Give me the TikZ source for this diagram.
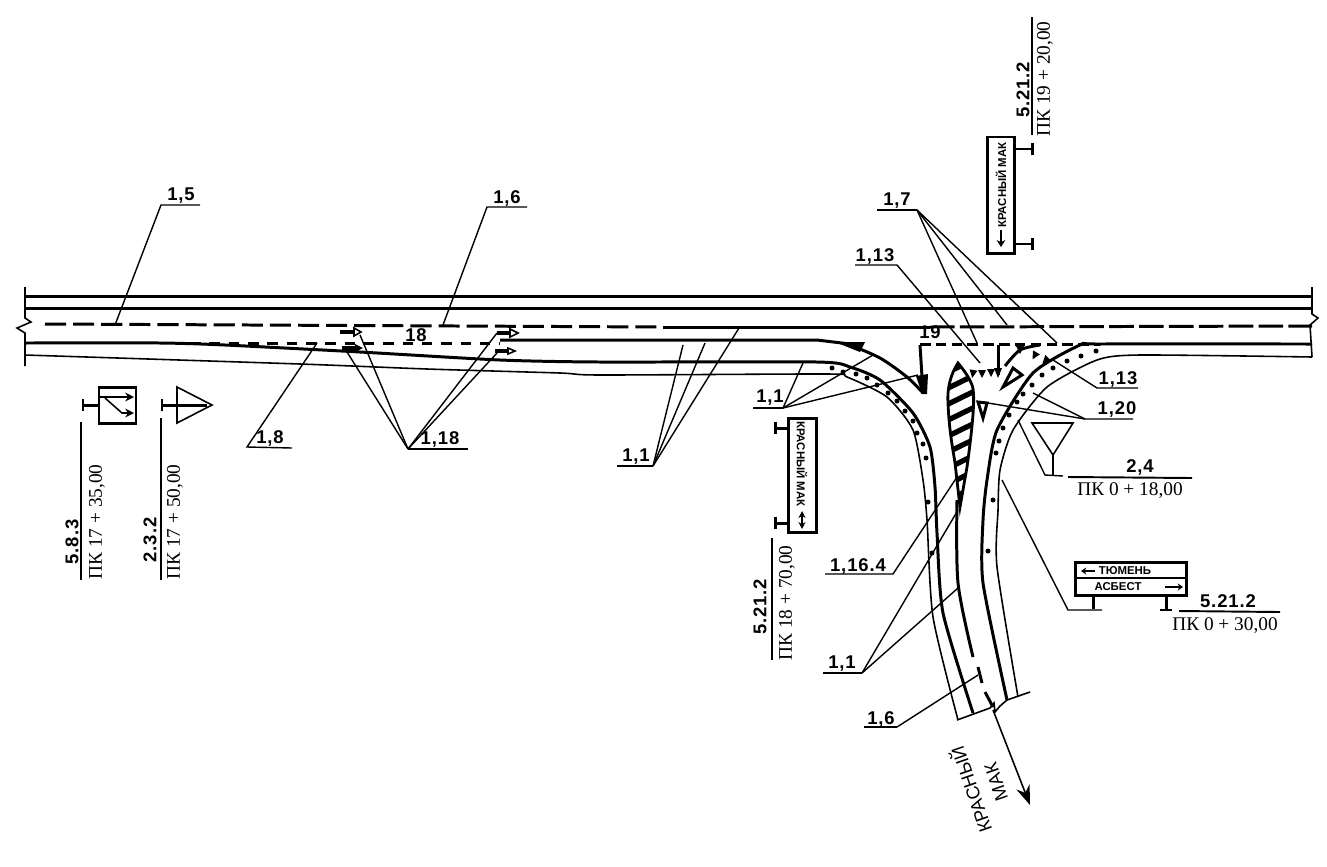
\documentclass[tikz,border=0pt]{standalone}
\usepackage{fontspec}
\setmainfont{Liberation Sans}
\newfontfamily\pkfont{Liberation Serif}
\usetikzlibrary{arrows.meta}
\tikzset{
	lbl/.style={font=\fontsize{10.5}{11}\selectfont\bfseries\addfontfeature{LetterSpace=5},inner sep=0pt},
	pk/.style={font=\pkfont\fontsize{11}{11}\selectfont,inner sep=0pt},
	signtext/.style={font=\fontsize{6.5}{7}\selectfont\bfseries,inner sep=0pt},
	thinline/.style={line width=.9pt},
	thickline/.style={line width=1.7pt},
	leader/.style={line width=.8pt},
	rule/.style={line width=1.1pt}
}
\newcommand{\tmark}[2]{\draw[thickline] (#1,#2-6) -- (#1,#2+6);}
\begin{document}
\begin{tikzpicture}[x=.02cm,y=-.02cm]
	\useasboundingbox (0,0) rectangle (1327,866);
	%main road
	\draw[thickline] (25,296) -- (1312,296);
	\draw[thickline] (25,308) -- (1312,308);
	\draw[thickline,dash pattern=on 12pt off 4pt] (45,324) -- (663,327);
	\draw[thickline] (663,327) -- (930,327);
	\draw[thickline,dash pattern=on 14pt off 3pt] (930,327) -- (1312,326);
	\draw[thinline] (25,287) -- (25,318) -- (31,322) -- (17,328) -- (25,333) -- (25,366);
	\draw[thinline] (1312,287) -- (1312,314) -- (1318,318) -- (1310,325) -- (1312,357);
	%edge lines
	\draw[thickline] plot[smooth,tension=.4] coordinates {(25,343) (160,343) (225,345) (360,352) (500,360) (600,362) (817,362) (850,367) (880,380) (913,413) (930,447) (935,487) (937,533) (943,613) (973,713)};
	\draw[thinline] plot[smooth,tension=.4] coordinates {(25,355) (300,364) (427,369) (560,373) (600,375) (827,374) (847,377) (887,397) (913,430) (923,480) (927,520) (933,617) (958,720)};
	\draw[thickline] plot[smooth,tension=.4] coordinates {(1312,344) (1100,344) (1080,345) (1033,373) (997,430) (987,480) (983,520) (983,583) (1007,700)};
	\draw[thinline] plot[smooth,tension=.4] coordinates {(1312,357) (1140,355) (1097,360) (1047,387) (1013,430) (1000,470) (998,510) (997,567) (1018,697)};
	\draw[thickline,dash pattern=on 6pt off 5pt] (190,343) -- (500,343);
	\draw[thickline,dash pattern=on 6pt off 3pt] (920,344) -- (1100,344);
	\draw[thickline] (500,340) -- (817,340) -- (850,344);
	%branch road centre
	\draw[thickline] plot[smooth,tension=.5] coordinates {(957,500) (958,583) (973,657)};
	\draw[thickline] (978,667) -- (982,683);
	\draw[thickline] (985,692) -- (993,707);
	\draw[thinline] (957,720) -- (990,708) -- (994,703) -- (995,712) -- (1000,706) -- (1007,700) -- (1030,692);
	\draw[thinline,-{Stealth[length=11pt,width=8pt]}] (993,710) -- (1030,805);
	%give way lines
	\fill (835,342) -- (865,342) -- (860,352) -- cycle;
	\draw[thickline] plot[smooth,tension=.5] coordinates {(850,345) (880,358) (907,377) (923,393)};
	\draw[thickline] (920,345) -- (923,393);
	\fill (916,376) -- (928,374) -- (927,394) -- (922,394) -- cycle;
	\draw[thickline] (998,345) -- (998,375);
	\fill (994,368) -- (1002,368) -- (998,378) -- cycle;
	\draw[thickline] plot[smooth] coordinates {(1005,366) (1020,350) (1040,345)};
	\foreach \x/\y/\a in {973/373/170,982/373/180,991/372/180,1020/349/180,1035/355/150,1046/360/135}
		\fill[shift={(\x,\y)},rotate=\a] (-4,3) -- (4,3) -- (0,-5) -- cycle;
	\draw[thickline] (1013,368) -- (1003,387) -- (1022,375) -- cycle;
	\draw[thickline] (978,402) -- (983,418) -- (987,403) -- cycle;
	%island
	\begin{scope}
		\clip (958,363) .. controls (950,375) and (947,390) .. (948,403) .. controls (949,430) and (953,450) .. (955,463) -- (960,507) -- (967,467) .. controls (972,430) and (976,395) .. (972,385) .. controls (968,375) and (962,368) .. (958,363) -- cycle;
		\foreach \y in {368,384,...,512}
			\draw[line width=3pt] (940,\y+8) -- (985,\y-14);
	\end{scope}
	\draw[line width=1.6pt] (958,363) .. controls (950,375) and (947,390) .. (948,403) .. controls (949,430) and (953,450) .. (955,463) -- (960,507) -- (967,467) .. controls (972,430) and (976,395) .. (972,385) .. controls (968,375) and (962,368) .. (958,363) -- cycle;
	%dots
	\foreach \x/\y in {832/368,843/372,856/374,867/378,877/385,888/393,897/401,905/411,913/421,917/433,923/444,926/458,928/502,932/553,1096/351,1081/356,1067/361,1053/368,1042/375,1032/385,1023/394,1017/402,1009/415,1003/428,999/441,996/453,993/500,988/551}
		\fill (\x,\y) circle (2.5);
	%small arrows
	\draw[line width=1.8pt] (340,332) -- (354,332);
	\draw[thinline,fill=white] (354,328) -- (361,332) -- (354,336) -- cycle;
	\draw[line width=2.6pt] (342,348) -- (356,348);
	\fill (355,344) -- (363,348) -- (355,352) -- cycle;
	\draw[line width=1.8pt] (497,333) -- (510,333);
	\draw[thinline,fill=white] (510,329) -- (518,333) -- (510,337) -- cycle;
	\draw[line width=2.2pt] (495,351) -- (508,351);
	\draw[thinline,fill=white] (508,348) -- (515,351) -- (508,354) -- cycle;
	\node[lbl] (n18) at (416,335) {18};
	\node[lbl] (n19) at (930,332) {19};
	%leaders
	\node[lbl] (t15) at (181,196) {1,5};
	\coordinate (u15a) at (161,205); \coordinate (u15b) at (200,205); \coordinate (p15) at (115,325);
	\draw[leader] (u15b) -- (u15a) -- (p15);
	\node[lbl] (t16) at (507,198) {1,6};
	\coordinate (u16a) at (487,207); \coordinate (u16b) at (527,207); \coordinate (p16) at (443,325);
	\draw[leader] (u16b) -- (u16a) -- (p16);
	\node[lbl] (t18) at (270,438) {1,8};
	\coordinate (u18a) at (247,447); \coordinate (u18b) at (292,448); \coordinate (p18) at (317,343);
	\draw[leader] (u18b) -- (u18a) -- (p18);
	\node[lbl] (t118) at (440,439) {1,18};
	\coordinate (u118a) at (408,449); \coordinate (u118b) at (468,449);
	\draw[rule] (u118a) -- (u118b);
	\foreach \x/\y in {360/335,347/352,497/333,497/353}
		\draw[leader] (u118a) -- (\x,\y);
	\node[lbl] (t11a) at (636,457) {1,1};
	\coordinate (u11a) at (617,466); \coordinate (u11b) at (653,466);
	\draw[leader] (u11a) -- (u11b);
	\foreach \x/\y in {683/345,705/343,739/328}
		\draw[leader] (u11b) -- (\x,\y);
	\node[lbl] (t11b) at (770,398) {1,1};
	\coordinate (u12a) at (753,408); \coordinate (u12b) at (783,408);
	\draw[leader] (u12a) -- (u12b);
	\foreach \x/\y in {803/363,873/355,918/375}
		\draw[leader] (u12b) -- (\x,\y);
	\node[lbl] (t17) at (897,201) {1,7};
	\coordinate (u17a) at (877,210); \coordinate (u17b) at (917,210);
	\draw[leader] (u17a) -- (u17b);
	\foreach \x/\y in {977/343,1007/325,1057/343}
		\draw[leader] (u17b) -- (\x,\y);
	\node[lbl] (t113a) at (875,256) {1,13};
	\coordinate (u13a) at (855,265); \coordinate (u13b) at (897,265); \coordinate (p13) at (980,363);
	\draw[leader] (u13a) -- (u13b) -- (p13);
	\node[lbl] (t113b) at (1118,379) {1,13};
	\coordinate (u14a) at (1097,388); \coordinate (u14b) at (1138,388); \coordinate (p14) at (1053,360);
	\draw[leader] (u14b) -- (u14a) -- (p14);
	\node[lbl] (t120) at (1117,409) {1,20};
	\coordinate (u20a) at (1085,419); \coordinate (u20b) at (1133,419);
	\draw[leader] (u20b) -- (u20a) -- (1033,393);
	\draw[leader] (u20a) -- (988,403);
	\node[lbl] (t1164) at (858,566) {1,16.4};
	\coordinate (u16c) at (825,574); \coordinate (u16d) at (893,574); \coordinate (p16d) at (957,477);
	\draw[leader] (u16c) -- (u16d) -- (p16d);
	\node[lbl] (t11c) at (842,664) {1,1};
	\coordinate (u11c) at (823,673); \coordinate (u11d) at (862,673);
	\draw[rule] (u11c) -- (u11d);
	\draw[leader] (u11d) -- (958,510);
	\draw[leader] (u11d) -- (958,588);
	\node[lbl] (t16b) at (881,719) {1,6};
	\coordinate (u16e) at (864,727); \coordinate (u16f) at (897,727); \coordinate (p16f) at (978,675);
	\draw[rule] (u16e) -- (u16f);
	\draw[leader] (u16f) -- (p16f);
	%signs: start of the slip lane
	\draw[thickline] (99,387) rectangle (136,423);
	\draw[thickline] (83,405) -- (99,405); \tmark{83}{405}
	\draw[thinline,-{Stealth[length=5pt,width=5pt]}] (100,397) -- (134,397);
	\draw[thinline,-{Stealth[length=5pt,width=5pt]}] (105,398) -- (122,413) -- (134,413);
	\draw[rule] (81,422) -- (81,580);
	\node[lbl,rotate=90] (s583) at (72,542) {5.8.3};
	\node[pk,rotate=90] (k583) at (97,522) {ПК 17 + 35,00};
	\draw[thinline] (177,387) -- (212,405) -- (177,423) -- cycle;
	\draw[thickline] (162,405) -- (207,405); \tmark{162}{405}
	\draw[rule] (161,418) -- (161,580);
	\node[lbl,rotate=90] (s232) at (150,540) {2.3.2};
	\node[pk,rotate=90] (k232) at (175,522) {ПК 17 + 50,00};
	%signs: direction plates
	\draw[thickline] (788,418) rectangle (816,532);
	\node[signtext,rotate=-90] (krl) at (802,464) {КРАСНЫЙ МАК};
	\draw[thinline,{Stealth[length=4pt,width=4pt]}-{Stealth[length=4pt,width=4pt]}] (802,511) -- (802,529);
	\draw[thickline] (775,428) -- (788,428); \tmark{775}{428}
	\draw[thickline] (775,523) -- (788,523); \tmark{775}{523}
	\draw[rule] (772,538) -- (772,660);
	\node[lbl,rotate=90] (s5212a) at (760,607) {5.21.2};
	\node[pk,rotate=90] (k5212a) at (787,603) {ПК 18 + 70,00};
	\draw[thickline] (987,137) rectangle (1014,253);
	\node[signtext,rotate=90] (kru) at (1001,185) {КРАСНЫЙ МАК};
	\draw[thinline,-{Stealth[length=4pt,width=5pt]}] (1001,230) -- (1001,247);
	\draw[thinline] (1014,149) -- (1032,149); \tmark{1032}{149}
	\draw[thinline] (1014,244) -- (1032,244); \tmark{1032}{244}
	\draw[leader] (1032,17) -- (1032,135);
	\node[lbl,rotate=90] (s5212b) at (1023,90) {5.21.2};
	\node[pk,rotate=90] (k5212b) at (1045,79) {ПК 19 + 20,00};
	\draw[thinline] (1032,423) -- (1073,423) -- (1053,455) -- cycle;
	\draw[thinline] (1053,455) -- (1053,475);
	\coordinate (b24a) at (1045,475); \coordinate (b24b) at (1063,476); \coordinate (p24) at (1018,420);
	\draw[leader] (b24b) -- (b24a) -- (p24);
	\draw[rule] (1068,477) -- (1192,478);
	\node[lbl] (s24) at (1140,467) {2,4};
	\node[pk] (k24) at (1130,491) {ПК 0 + 18,00};
	\draw[thickline] (1075,562) rectangle (1186,595);
	\draw[thinline] (1075,578) -- (1186,578);
	\draw[thinline,-{Stealth[length=3pt,width=4pt]}] (1095,571) -- (1081,571);
	\node[signtext] (tum) at (1125,571) {ТЮМЕНЬ};
	\node[signtext] (asb) at (1118,587) {АСБЕСТ};
	\draw[thinline,-{Stealth[length=3pt,width=4pt]}] (1165,587) -- (1183,587);
	\draw[thickline] (1093,595) -- (1093,609);
	\draw[thickline] (1166,595) -- (1166,610);
	\draw[rule] (1160,610) -- (1172,610);
	\coordinate (b52a) at (1068,610); \coordinate (b52b) at (1102,610); \coordinate (p52) at (1002,480);
	\draw[leader] (b52b) -- (b52a) -- (p52);
	\draw[rule] (1179,611) -- (1280,612);
	\node[lbl] (s5212c) at (1228,601) {5.21.2};
	\node[pk] (k5212c) at (1225,626) {ПК 0 + 30,00};
	%road name
	\node[font=\fontsize{10.5}{11}\selectfont,inner sep=0pt,rotate=109] (kras) at (970,790) {КРАСНЫЙ};
	\node[font=\fontsize{10.5}{11}\selectfont,inner sep=0pt,rotate=109] (mak) at (996,782) {МАК};
\end{tikzpicture}
\end{document}
